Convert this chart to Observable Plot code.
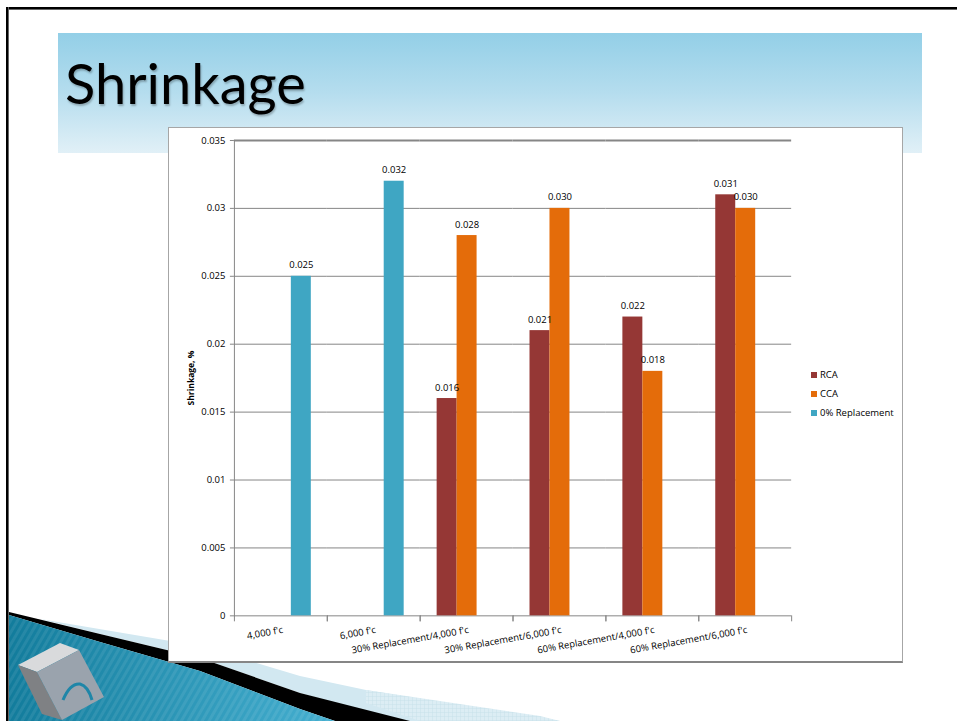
<!DOCTYPE html>
<html>
<head>
<meta charset="utf-8">
<script src="https://cdn.jsdelivr.net/npm/d3@7"></script>
<script src="https://cdn.jsdelivr.net/npm/@observablehq/plot@0.6"></script>
<style>
  html, body { margin: 0; padding: 0; background: #fff; }
  #slide { position: relative; width: 957px; height: 721px; overflow: hidden; background: #fff; font-family: "Open Sans", sans-serif; }
  .frame-top { position: absolute; left: 6px; top: 7px; width: 951px; height: 2px; background: #000; border-bottom: 1px solid #666; }
  .frame-left { position: absolute; left: 6px; top: 7px; width: 2px; height: 714px; background: #000; border-right: 1px solid #666; }
  .banner { position: absolute; left: 58px; top: 33px; width: 864px; height: 120px;
            background: linear-gradient(to bottom, #93cfe7 0%, #b5ddee 50%, #e1f0f7 100%); }
  .title { position: absolute; left: 65px; top: 53px; font-family: Lato, sans-serif; font-size: 56px; line-height: 60px;
           color: #000; text-shadow: 1px 2px 2px rgba(0,0,0,0.25); letter-spacing: 0px; }
  #deco { position: absolute; left: 0; top: 0; }
  .chartbox { position: absolute; left: 168px; top: 127px; width: 733px; height: 533px; background: #fff;
              border: 1px solid #a6a6a6; border-bottom: 2px solid #868686; }
  #chart { position: absolute; left: 0; top: 0; }
  .ytitle { position: absolute; left: 21px; top: 250px; width: 0; height: 0; }
  .ytitle span { position: absolute; transform: translate(-50%, -50%) rotate(-90deg); white-space: nowrap;
                 font-family: "Open Sans", sans-serif; font-weight: bold; font-size: 8.5px; color: #000; }
  .legend-item { position: absolute; left: 642px; font-family: "Open Sans", sans-serif; font-size: 9.5px; color: #000;
                 white-space: nowrap; line-height: 12px; height: 12px; }
  .legend-item i { display: inline-block; width: 6px; height: 6px; margin-right: 3px; vertical-align: 0px; }
</style>
</head>
<body>
<div id="slide">
  <svg id="deco" width="957" height="721">
    <defs>
      <linearGradient id="blueg" x1="0" y1="0" x2="1" y2="0">
        <stop offset="0" stop-color="#127c9c"/>
        <stop offset="1" stop-color="#45afd0"/>
      </linearGradient>
      <pattern id="stripes" width="6" height="6" patternUnits="userSpaceOnUse" patternTransform="rotate(30)">
        <rect width="3" height="6" fill="#ffffff" opacity="0.08"/>
      </pattern>
      <pattern id="grid" width="4" height="4" patternUnits="userSpaceOnUse">
        <rect width="4" height="4" fill="#dcedf4"/>
        <path d="M0 0H4M0 0V4" stroke="#c3dfea" stroke-width="0.8"/>
      </pattern>
    </defs>
    <polygon points="40,619 200,646 300,676 366,690 560,721 400,721 300,693 200,658 100,634" fill="#d2e8f1"/>
    <polygon points="366,690 540,716 560,721 420,721 366,703" fill="url(#grid)"/>
    <polygon points="9,612 100,634 200,658 300,693 410,721 335,721 300,709 200,671 100,642 9,615" fill="#000"/>
    <polygon points="9,615 100,642 200,671 300,709 335,721 9,721" fill="url(#blueg)"/>
    <polygon points="9,615 100,642 200,671 300,709 335,721 9,721" fill="url(#stripes)"/>
    <polygon points="18,665 60,643 79,650 37,672" fill="#d9dadc"/>
    <polygon points="18,665 37,672 62,720 42,714" fill="#7f8184"/>
    <polygon points="37,672 79,650 104,697 62,720" fill="#9aa3ad"/>
    <path d="M63,700 Q70,683 80,684 Q88,686 92,700" stroke="#1f86a8" stroke-width="3" fill="none"/>
  </svg>
  <div class="frame-top"></div>
  <div class="frame-left"></div>
  <div class="banner"></div>
  <div class="title">Shrinkage</div>
  <div class="chartbox">
    <div id="chart"></div>
    <div class="ytitle"><span>Shrinkage, %</span></div>
    <div class="legend-item" style="top:241px"><i style="background:#953735"></i>RCA</div>
    <div class="legend-item" style="top:260px"><i style="background:#e46c0a"></i>CCA</div>
    <div class="legend-item" style="top:279px"><i style="background:#3fa6c3"></i>0% Replacement</div>
  </div>
</div>
<script>
const categories = ["4,000 f'c", "6,000 f'c", "30% Replacement/4,000 f'c", "30% Replacement/6,000 f'c", "60% Replacement/4,000 f'c", "60% Replacement/6,000 f'c"];
const seriesNames = ["RCA", "CCA", "0% Replacement"];
const rcaValues = [null, null, 0.016, 0.021, 0.022, 0.031];
const ccaValues = [null, null, 0.028, 0.030, 0.018, 0.030];
const zeroReplacementValues = [0.025, 0.032, null, null, null, null];
const seriesColors = ["#953735", "#e46c0a", "#3fa6c3"];
const yTicks = [0, 0.005, 0.01, 0.015, 0.02, 0.025, 0.03, 0.035];
const yTickLabels = ["0", "0.005", "0.01", "0.015", "0.02", "0.025", "0.03", "0.035"];

const valueSets = [rcaValues, ccaValues, zeroReplacementValues];
const data = [];
categories.forEach((c, i) => {
  seriesNames.forEach((s, j) => {
    const v = valueSets[j][i];
    if (v != null) data.push({category: c, series: s, value: v});
  });
});

const grid = "#868686";
const chart = Plot.plot({
  width: 734,
  height: 535,
  marginLeft: 64,
  marginRight: 110,
  marginTop: 12,
  marginBottom: 47,
  style: {fontFamily: "'Open Sans', sans-serif", fontSize: "9.5px", color: "#000", background: "transparent", overflow: "visible"},
  fx: {domain: categories, padding: 0, axis: null},
  x: {domain: seriesNames, paddingInner: 0, paddingOuter: 0.75, axis: null},
  y: {domain: [0, 0.035], axis: null},
  color: {domain: seriesNames, range: seriesColors},
  marks: [
    Plot.ruleY(yTicks, {stroke: grid, strokeWidth: d => d === 0.035 ? 2 : 1}),
    Plot.frame({anchor: "left", facetAnchor: "left", stroke: grid}),
    Plot.frame({anchor: "left", stroke: grid, insetTop: 476, insetBottom: -5}),
    Plot.frame({anchor: "right", stroke: grid, insetTop: 476, insetBottom: -5}),
    Plot.axisY({ticks: yTicks, tickFormat: d => yTickLabels[yTicks.indexOf(d)], tickSize: 4, tickPadding: 5, stroke: grid, label: null}),
    Plot.barY(data, {fx: "category", x: "series", y: "value", fill: "series"}),
    Plot.text(data, {fx: "category", x: "series", y: "value", text: d => d.value.toFixed(3), lineAnchor: "middle", dy: -11, fill: "#000"}),
    Plot.text(categories, {fx: d => d, text: d => d, frameAnchor: "bottom", textAnchor: "end", lineAnchor: "middle", rotate: -10, dy: 14, dx: 2, fill: "#000"})
  ]
});
document.getElementById("chart").appendChild(chart);
</script>
</body>
</html>
